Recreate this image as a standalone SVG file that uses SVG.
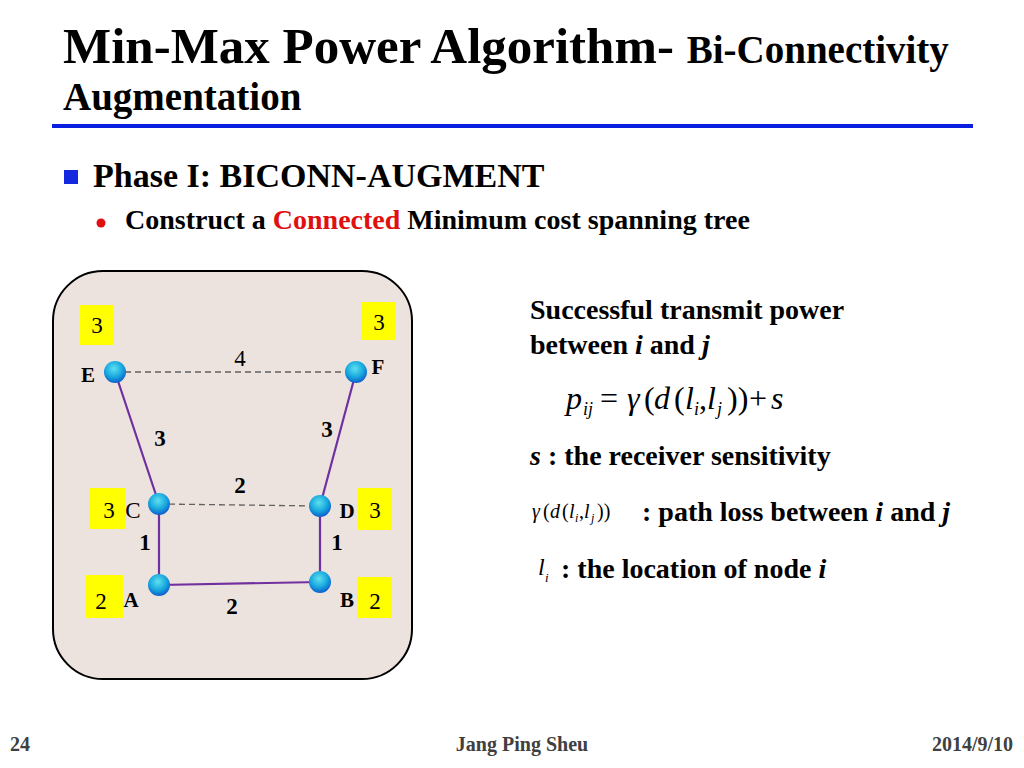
<svg xmlns="http://www.w3.org/2000/svg" width="1024" height="768" viewBox="0 0 1024 768">
<defs>
<radialGradient id="ball" cx="0.45" cy="0.35" r="0.7">
<stop offset="0" stop-color="#5fe0f0"/>
<stop offset="0.55" stop-color="#18a8de"/>
<stop offset="1" stop-color="#0a50c8"/>
</radialGradient>
</defs>
<style>
.t{font-family:"Liberation Serif","Times New Roman",serif;font-weight:bold;fill:#000}
.n{font-family:"Liberation Serif","Times New Roman",serif;fill:#000}
.m{font-family:"Liberation Serif","Times New Roman",serif;font-style:italic;fill:#000}
.r{font-family:"Liberation Serif","Times New Roman",serif;fill:#000}
.edge{stroke:#7030a0;stroke-width:2.2;fill:none}
.dash{stroke:#606060;stroke-width:1.3;stroke-dasharray:6 4;fill:none}
.ybox{fill:#ffff00}
.node{fill:url(#ball)}
.foot{font-family:"Liberation Serif","Times New Roman",serif;font-weight:bold;fill:#404040;font-size:20px}
</style>
<rect width="1024" height="768" fill="#fff"/>
<text class="t" x="63" y="63" font-size="51">Min-Max Power Algorithm- <tspan font-size="39">Bi-Connectivity</tspan></text>
<text class="t" x="63" y="110" font-size="39">Augmentation</text>
<rect x="52" y="124" width="921" height="4" fill="#0a1ee0"/>
<rect x="64" y="170" width="14" height="14" fill="#1428e0"/>
<text class="t" x="93" y="187" font-size="34">Phase I: BICONN-AUGMENT</text>
<circle cx="101" cy="223" r="4.5" fill="#e01010"/>
<text class="t" x="125" y="229" font-size="28">Construct a <tspan fill="#e01010">Connected</tspan> Minimum cost spanning tree</text>

<rect x="53" y="271" width="359" height="408" rx="50" fill="#ede3de" stroke="#000" stroke-width="2"/>

<g id="connectors">
<line class="dash" x1="115" y1="372" x2="356" y2="372"/>
<line class="dash" x1="159" y1="504" x2="320" y2="506"/>
<line class="edge" x1="115" y1="372" x2="159" y2="504"/>
<line class="edge" x1="356" y1="372" x2="320" y2="506"/>
<line class="edge" x1="159" y1="504" x2="159" y2="585"/>
<line class="edge" x1="320" y1="506" x2="320" y2="582"/>
<line class="edge" x1="159" y1="585" x2="320" y2="582"/>
<text class="n" x="240" y="366" font-size="23" text-anchor="middle">4</text>
<text class="t" x="160" y="446" font-size="23" text-anchor="middle">3</text>
<text class="t" x="327" y="437" font-size="23" text-anchor="middle">3</text>
<text class="t" x="240" y="493" font-size="23" text-anchor="middle">2</text>
<text class="t" x="145" y="550" font-size="23" text-anchor="middle">1</text>
<text class="t" x="337" y="550" font-size="23" text-anchor="middle">1</text>
<text class="t" x="232" y="614" font-size="23" text-anchor="middle">2</text>
</g>

<g id="node-E">
<rect class="ybox" x="80" y="305" width="34" height="40"/>
<text class="n" x="97" y="333" font-size="23" text-anchor="middle">3</text>
<circle class="node" cx="115" cy="372" r="11"/>
<text class="t" x="88" y="382" font-size="21" text-anchor="middle">E</text>
</g>
<g id="node-F">
<rect class="ybox" x="361" y="302" width="35" height="38"/>
<text class="n" x="379" y="330" font-size="23" text-anchor="middle">3</text>
<circle class="node" cx="356" cy="372" r="11"/>
<text class="t" x="378" y="374" font-size="21" text-anchor="middle">F</text>
</g>
<g id="node-C">
<rect class="ybox" x="89" y="488" width="37" height="41"/>
<text class="n" x="109" y="518" font-size="23" text-anchor="middle">3</text>
<circle class="node" cx="159" cy="504" r="11"/>
<text class="n" x="133" y="518" font-size="23" text-anchor="middle">C</text>
</g>
<g id="node-D">
<rect class="ybox" x="358" y="488" width="34" height="42"/>
<text class="n" x="375" y="518" font-size="23" text-anchor="middle">3</text>
<circle class="node" cx="320" cy="506" r="11"/>
<text class="t" x="347" y="518" font-size="21" text-anchor="middle">D</text>
</g>
<g id="node-A">
<rect class="ybox" x="86" y="575" width="37" height="43"/>
<text class="n" x="101" y="609" font-size="23" text-anchor="middle">2</text>
<circle class="node" cx="159" cy="585" r="11"/>
<text class="t" x="131" y="607" font-size="21" text-anchor="middle">A</text>
</g>
<g id="node-B">
<rect class="ybox" x="357" y="577" width="35" height="41"/>
<text class="n" x="375" y="609" font-size="23" text-anchor="middle">2</text>
<circle class="node" cx="320" cy="582" r="11"/>
<text class="t" x="347" y="607" font-size="21" text-anchor="middle">B</text>
</g>

<text class="t" x="530" y="319" font-size="28">Successful transmit power</text>
<text class="t" x="530" y="354" font-size="28">between <tspan font-style="italic">i</tspan> and <tspan font-style="italic">j</tspan></text>

<g font-size="32">
<text class="m" x="566" y="409">p</text>
<text class="m" x="583" y="415" font-size="18">ij</text>
<text class="r" x="600" y="409">=</text>
<text class="m" x="627" y="409">γ</text>
<text class="r" x="644" y="409">(</text>
<text class="m" x="654" y="409">d</text>
<text class="r" x="674" y="409">(</text>
<text class="m" x="685" y="409">l</text>
<text class="m" x="694" y="415" font-size="18">i</text>
<text class="r" x="699" y="409">,</text>
<text class="m" x="707" y="409">l</text>
<text class="m" x="717" y="415" font-size="18">j</text>
<text class="r" x="727" y="409">))</text>
<text class="r" x="749" y="409">+</text>
<text class="m" x="771" y="409">s</text>
</g>

<text class="t" x="530" y="465" font-size="28"><tspan font-style="italic">s</tspan> : the receiver sensitivity</text>

<g font-size="20">
<text class="m" x="532" y="518">γ</text>
<text class="r" x="543" y="518">(</text>
<text class="m" x="550" y="518">d</text>
<text class="r" x="562" y="518">(</text>
<text class="m" x="569" y="518">l</text>
<text class="m" x="575" y="522" font-size="12">i</text>
<text class="r" x="579" y="518">,</text>
<text class="m" x="584" y="518">l</text>
<text class="m" x="591" y="522" font-size="12">j</text>
<text class="r" x="597" y="518">))</text>
</g>
<text class="t" x="642" y="521" font-size="28">: path loss between <tspan font-style="italic">i</tspan> and <tspan font-style="italic">j</tspan></text>
<text class="m" x="538" y="575" font-size="24">l</text>
<text class="m" x="545" y="582" font-size="13">i</text>
<text class="t" x="561" y="578" font-size="28">: the location of node <tspan font-style="italic">i</tspan></text>

<text class="foot" x="10" y="751">24</text>
<text class="foot" x="522" y="751" text-anchor="middle">Jang Ping Sheu</text>
<text class="foot" x="1013" y="751" text-anchor="end">2014/9/10</text>
</svg>
